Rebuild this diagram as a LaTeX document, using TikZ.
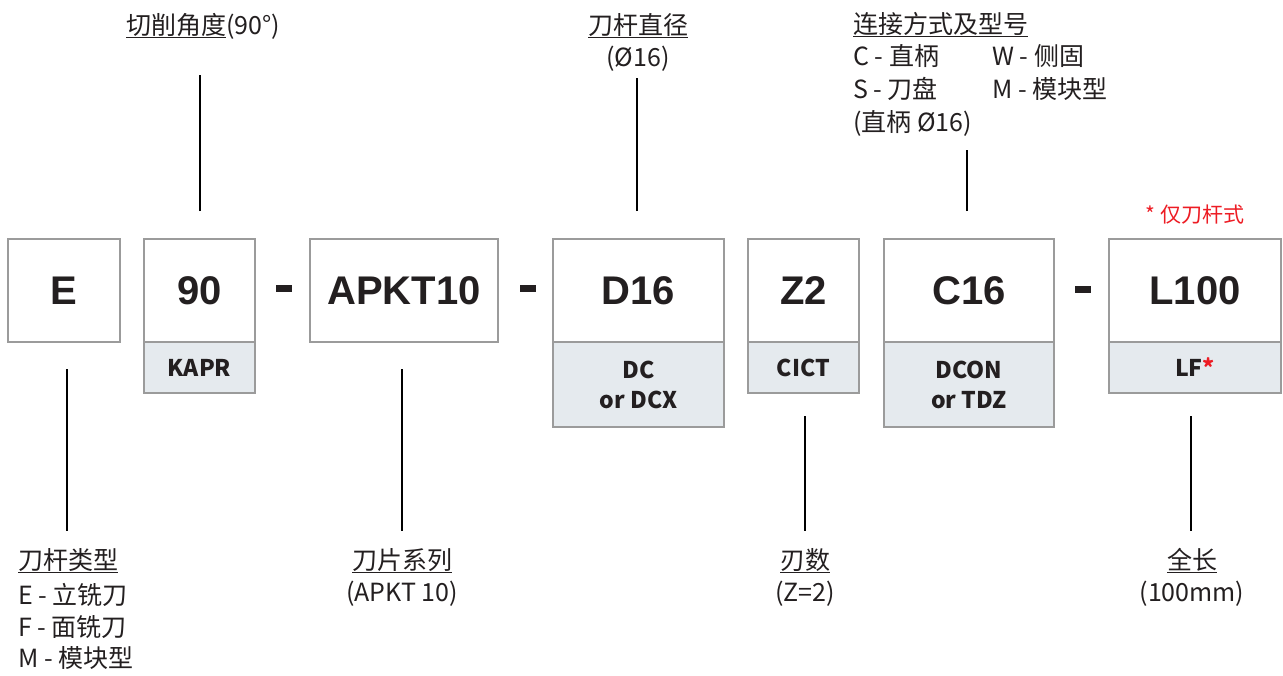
\documentclass[tikz,border=0pt]{standalone}
\usepackage{fontspec}
\setmainfont{Noto Sans CJK SC}
\newfontfamily\codefont{Liberation Sans}
\usetikzlibrary{calc}
\definecolor{ink}{HTML}{231F20}
\definecolor{boxline}{HTML}{9B9B9B}
\definecolor{subfill}{HTML}{E5EAEE}
\definecolor{redmark}{HTML}{ED1C24}
\begin{document}
\begin{tikzpicture}[x=1pt,y=-1pt,
 codebox/.style={draw=boxline, line width=1.5pt, fill=white, inner sep=0pt, outer sep=0pt, minimum height=103pt, text=ink, font=\codefont\bfseries\fontsize{40}{40}\selectfont},
 subbox/.style={draw=boxline, line width=1.5pt, fill=subfill, inner sep=0pt, outer sep=0pt, anchor=north, text=ink, align=center, font=\bfseries\fontsize{23}{30}\selectfont},
 conn/.style={draw=black, line width=1.2pt},
 lbl/.style={text=ink, inner sep=0pt, font=\fontsize{25}{31}\selectfont},
 sepbar/.style={fill=ink, inner sep=0pt, outer sep=0pt, minimum width=16pt, minimum height=7pt},
]
\useasboundingbox (0,0) rectangle (1283,675);

% code boxes
\node[codebox, minimum width=112pt] (bE) at (64,290.5) {E};
\node[codebox, minimum width=111pt] (b90) at (199.5,290.5) {90};
\node[subbox, minimum width=111pt, minimum height=51pt] (s90) at (b90.south) {KAPR};
\node[codebox, minimum width=188pt] (bAP) at (404,290.5) {APKT10};
\node[codebox, minimum width=171pt] (bD) at (638.5,290.5) {D16};
\node[subbox, minimum width=171pt, minimum height=85pt] (sD) at (bD.south) {DC\\or DCX};
\node[codebox, minimum width=111pt] (bZ) at (803.5,290.5) {Z2};
\node[subbox, minimum width=111pt, minimum height=51pt] (sZ) at (bZ.south) {CICT};
\node[codebox, minimum width=170pt] (bC) at (969,290.5) {C16};
\node[subbox, minimum width=170pt, minimum height=85pt] (sC) at (bC.south) {DCON\\or TDZ};
\node[codebox, minimum width=172pt] (bL) at (1195,290.5) {L100};
\node[subbox, minimum width=172pt, minimum height=51pt] (sL) at (bL.south) {LF\textcolor{redmark}{*}};

% separators
\node[sepbar] (d1) at (283.5,288.5) {};
\node[sepbar] (d2) at (527.5,288.5) {};
\node[sepbar] (d3) at (1083,289) {};

% top labels
\node[lbl, anchor=base west] (tCut) at (126,34) {\underline{切削角度}(90°)};
\node[lbl, anchor=base] (tDia) at (638,34) {\underline{刀杆直径}};
\node[lbl, anchor=base] (tDiaV) at (638,66) {(Ø16)};
\node[lbl, anchor=base west] (tCon) at (853,33) {\underline{连接方式及型号}};
\node[lbl, anchor=base west] (tC1) at (853,65) {C - 直柄};
\node[lbl, anchor=base west] (tC2) at (853,98) {S - 刀盘};
\node[lbl, anchor=base west] (tC3) at (853,131) {(直柄 Ø16)};
\node[lbl, anchor=base west] (tW1) at (992,65) {W - 侧固};
\node[lbl, anchor=base west] (tW2) at (992,98) {M - 模块型};
\node[text=redmark, inner sep=0pt, font=\fontsize{21}{21}\selectfont, anchor=base] (note) at (1195,222) {* 仅刀杆式};

% bottom labels
\node[lbl, anchor=base west] (lType) at (18,569) {\underline{刀杆类型}};
\node[lbl, anchor=base west] (lT1) at (18,604) {E - 立铣刀};
\node[lbl, anchor=base west] (lT2) at (18,636) {F - 面铣刀};
\node[lbl, anchor=base west] (lT3) at (18,667) {M - 模块型};
\node[lbl, anchor=base] (lIns) at (402,569) {\underline{刀片系列}};
\node[lbl, anchor=base] (lInsV) at (402,601) {(APKT 10)};
\node[lbl, anchor=base] (lZ) at (805,569) {\underline{刃数}};
\node[lbl, anchor=base] (lZV) at (805,601) {(Z=2)};
\node[lbl, anchor=base] (lLen) at (1192,569) {\underline{全长}};
\node[lbl, anchor=base] (lLenV) at (1192,601) {(100mm)};

% connectors
\draw[conn] (b90.north) ++(0.5,-28) -- ++(0,-136);
\draw[conn] (bD.north) ++(-1.5,-28) -- ++(0,-133);
\draw[conn] (bC.north) ++(-2,-28) -- ++(0,-61);
\draw[conn] (bE.south) ++(3,27) -- ++(0,162);
\draw[conn] (bAP.south) ++(-2,27) -- ++(0,162);
\draw[conn] (sZ.south) ++(1.5,23) -- ++(0,115);
\draw[conn] (sL.south) ++(-4,23) -- ++(0,115);
\end{tikzpicture}
\end{document}
